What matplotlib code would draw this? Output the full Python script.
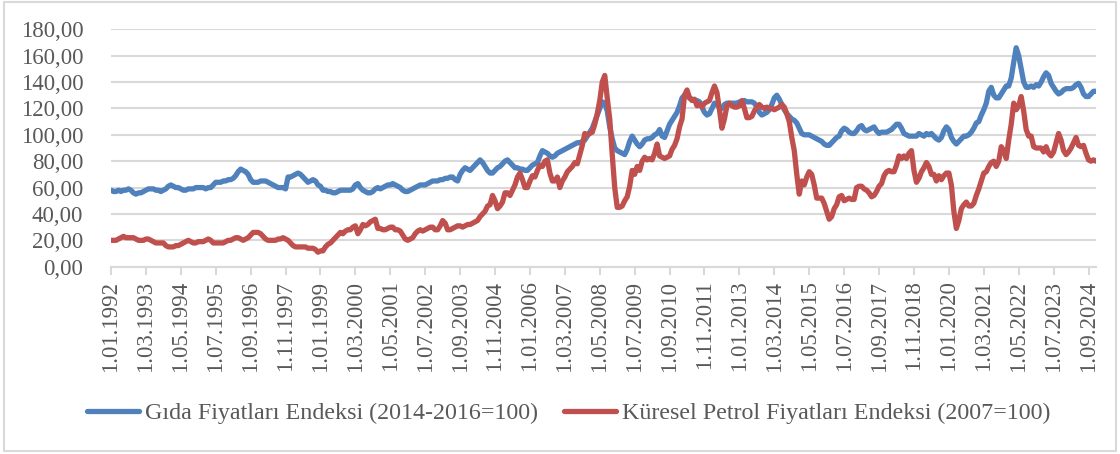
import numpy as np
from matplotlib import pyplot as plt
from matplotlib.patches import Rectangle

# aylik veriler, Ocak 1992 - Aralik 2024
start_year = 1992
food = [
    58, 57, 57, 58, 57, 58, 58, 59, 58, 56, 55, 56,          # 1992
    56, 57, 58, 59, 59, 59, 58, 58, 57, 58, 59, 61,          # 1993
    62, 61, 60, 60, 59, 58, 58, 59, 59, 59, 60, 60,          # 1994
    60, 60, 59, 60, 60, 62, 64, 64, 64, 65, 65, 66,          # 1995
    66, 67, 69, 72, 74, 73, 72, 70, 66, 64, 64, 64,          # 1996
    65, 65, 65, 64, 63, 62, 61, 60, 60, 60, 59, 68,          # 1997
    68, 69, 70, 71, 70, 68, 66, 64, 65, 66, 65, 62,          # 1998
    61, 58, 58, 57, 57, 56, 56, 57, 58, 58, 58, 58,          # 1999
    58, 59, 62, 63, 60, 58, 57, 56, 56, 57, 59, 60,          # 2000
    59, 60, 61, 62, 62, 63, 62, 61, 60, 58, 57, 57,          # 2001
    58, 59, 60, 61, 62, 62, 62, 63, 64, 65, 65, 65,          # 2002
    66, 66, 67, 67, 68, 68, 66, 65, 70, 73, 75, 74,          # 2003
    73, 75, 77, 79, 81, 79, 76, 73, 71, 71, 73, 75,          # 2004
    76, 78, 80, 81, 79, 77, 75, 75, 74, 74, 73, 73,          # 2005
    75, 77, 78, 79, 84, 88, 87, 86, 84, 83, 84, 86,          # 2006
    87, 88, 89, 90, 91, 92, 93, 94, 94, 95, 96, 99,          # 2007
    102, 105, 110, 115, 120, 125, 124, 118, 106, 97, 90, 88,  # 2008
    87, 86, 85, 89, 95, 99, 96, 93, 91, 93, 96, 97,          # 2009
    97, 98, 100, 101, 104, 99, 98, 103, 108, 111, 114, 117,  # 2010
    122, 128, 130, 130, 128, 127, 126, 126, 125, 121, 117, 115,  # 2011
    116, 120, 124, 123, 121, 120, 123, 124, 124, 124, 124, 124,  # 2012
    125, 125, 126, 125, 125, 125, 124, 121, 117, 115, 116, 117,  # 2013
    119, 123, 128, 130, 127, 123, 119, 116, 114, 112, 111, 109,  # 2014
    105, 101, 100, 100, 100, 99, 98, 97, 96, 95, 93, 92,     # 2015
    92, 94, 96, 98, 99, 103, 105, 104, 102, 101, 101, 103,   # 2016
    106, 107, 104, 103, 104, 105, 106, 103, 101, 102, 102, 102,  # 2017
    103, 104, 106, 108, 108, 105, 101, 100, 99, 99, 99, 99,  # 2018
    101, 100, 99, 101, 100, 101, 99, 97, 96, 98, 103, 106,   # 2019
    104, 98, 95, 93, 95, 97, 99, 99, 100, 102, 105, 109,     # 2020
    110, 115, 119, 124, 133, 136, 130, 128, 128, 131, 134, 137,  # 2021
    137, 143, 155, 166, 160, 150, 140, 136, 136, 137, 136, 138,  # 2022
    137, 140, 144, 147, 145, 139, 136, 133, 131, 132, 134, 135,  # 2023
    135, 135, 136, 138, 139, 136, 131, 129, 129, 131, 133, 133,  # 2024
]
oil = [
    20, 20, 20, 21, 22, 23, 22, 22, 22, 22, 21, 20,          # 1992
    20, 20, 21, 21, 20, 19, 18, 18, 18, 18, 16, 15,          # 1993
    15, 15, 16, 16, 17, 18, 19, 20, 19, 18, 18, 19,          # 1994
    19, 19, 20, 21, 20, 18, 18, 18, 18, 18, 19, 20,          # 1995
    20, 21, 22, 22, 21, 20, 21, 22, 24, 26, 26, 26,          # 1996
    25, 23, 21, 20, 20, 20, 20, 21, 21, 22, 21, 20,          # 1997
    18, 16, 15, 15, 15, 15, 15, 14, 14, 14, 13, 11,          # 1998
    12, 12, 15, 17, 18, 20, 22, 24, 26, 25, 27, 28,          # 1999
    28, 30, 31, 25, 28, 32, 31, 32, 34, 35, 36, 29,          # 2000
    29, 28, 28, 29, 30, 30, 28, 28, 27, 24, 21, 20,          # 2001
    21, 22, 25, 27, 28, 27, 28, 29, 30, 30, 28, 28,          # 2002
    31, 35, 33, 28, 28, 29, 30, 31, 31, 30, 31, 32,          # 2003
    32, 33, 34, 35, 38, 40, 42, 46, 47, 54, 50, 44,          # 2004
    46, 49, 56, 56, 54, 58, 62, 68, 71, 66, 60, 60,          # 2005
    65, 69, 68, 73, 77, 76, 80, 81, 71, 65, 65, 68,          # 2006
    60, 65, 68, 72, 74, 76, 79, 78, 85, 92, 101, 100,        # 2007
    101, 102, 108, 116, 126, 140, 145, 128, 112, 85, 60, 45,  # 2008
    45, 46, 50, 53, 61, 73, 70, 76, 73, 80, 83, 81,          # 2009
    82, 81, 86, 93, 84, 83, 82, 83, 84, 89, 92, 97,          # 2010
    106, 112, 130, 134, 128, 126, 127, 122, 123, 121, 124, 125,  # 2011
    126, 132, 137, 132, 119, 105, 112, 122, 124, 122, 121, 121,  # 2012
    122, 126, 120, 113, 113, 114, 118, 121, 123, 121, 120, 121,  # 2013
    120, 120, 119, 120, 121, 123, 121, 116, 110, 98, 88, 70,  # 2014
    55, 65, 62, 68, 72, 70, 62, 52, 52, 52, 48, 42,          # 2015
    36, 38, 44, 47, 53, 54, 50, 51, 52, 51, 51, 60,          # 2016
    61, 61, 59, 58, 56, 53, 54, 57, 61, 63, 69, 72,          # 2017
    73, 72, 72, 77, 84, 82, 84, 82, 86, 88, 73, 64,          # 2018
    67, 72, 75, 79, 76, 70, 70, 65, 69, 66, 69, 71,          # 2019
    71, 62, 42, 29, 35, 44, 47, 49, 46, 46, 48, 54,          # 2020
    59, 65, 71, 72, 76, 79, 80, 76, 80, 91, 88, 82,          # 2021
    96, 108, 124, 119, 122, 129, 118, 104, 99, 99, 91, 90,   # 2022
    90, 90, 87, 91, 86, 84, 87, 94, 101, 96, 88, 85,         # 2023
    87, 90, 94, 98, 92, 91, 92, 86, 81, 80, 81, 80,          # 2024
]
food_label = 'Gıda Fiyatları Endeksi (2014-2016=100)'
oil_label = 'Küresel Petrol Fiyatları Endeksi (2007=100)'
tick_step = 14


def main():
    plt.rcParams['font.family'] = ['Liberation Serif', 'DejaVu Serif']
    text_color = '#595959'
    grid_color = '#D9D9D9'

    x = np.arange(len(food))
    months = [(start_year + i // 12, i % 12 + 1) for i in x]

    fig = plt.figure(figsize=(11.2, 4.54), dpi=100)
    ax = fig.add_axes([111 / 1120, 1 - 266.7 / 454, 985 / 1120, 237.4 / 454])

    ax.plot(x, food, color='#4F81BD', lw=3.8, label=food_label,
            solid_joinstyle='round', solid_capstyle='round')
    ax.plot(x, oil, color='#C0504D', lw=3.8, label=oil_label,
            solid_joinstyle='round', solid_capstyle='round')

    ax.set_xlim(0, len(food) - 1)
    ax.set_ylim(0, 180)
    ticks = x[::tick_step]
    ax.set_xticks(ticks)
    ax.set_xticklabels([f'1.{months[i][1]:02d}.{months[i][0]}' for i in ticks],
                       rotation=90, fontsize=16.5, color=text_color)
    ax.set_yticks(np.arange(0, 181, 20))
    ax.set_yticklabels([f'{v:.2f}'.replace('.', ',') for v in np.arange(0, 181, 20)],
                       fontsize=16.5, color=text_color)

    ax.grid(axis='y', color=grid_color, lw=1.5)
    ax.set_axisbelow(True)
    for side in ['top', 'right', 'left']:
        ax.spines[side].set_visible(False)
    ax.spines['bottom'].set_color(grid_color)
    ax.spines['bottom'].set_linewidth(1.5)
    ax.tick_params(axis='x', color=grid_color, width=1.5, length=6, pad=4)
    ax.tick_params(axis='y', length=0, pad=20)

    fig.legend(loc='center', bbox_to_anchor=(0.508, 1 - 413 / 454), ncol=2,
               frameon=False, fontsize=17.3, labelcolor=text_color,
               handlelength=2.15, handletextpad=0.25, columnspacing=1.1)

    fig.patches.append(Rectangle((0.004, 0.006), 0.992, 0.99, transform=fig.transFigure,
                                 fill=False, edgecolor=grid_color, lw=1.5))

    fig.savefig('out.png', dpi=100)


if __name__ == '__main__':
    main()
